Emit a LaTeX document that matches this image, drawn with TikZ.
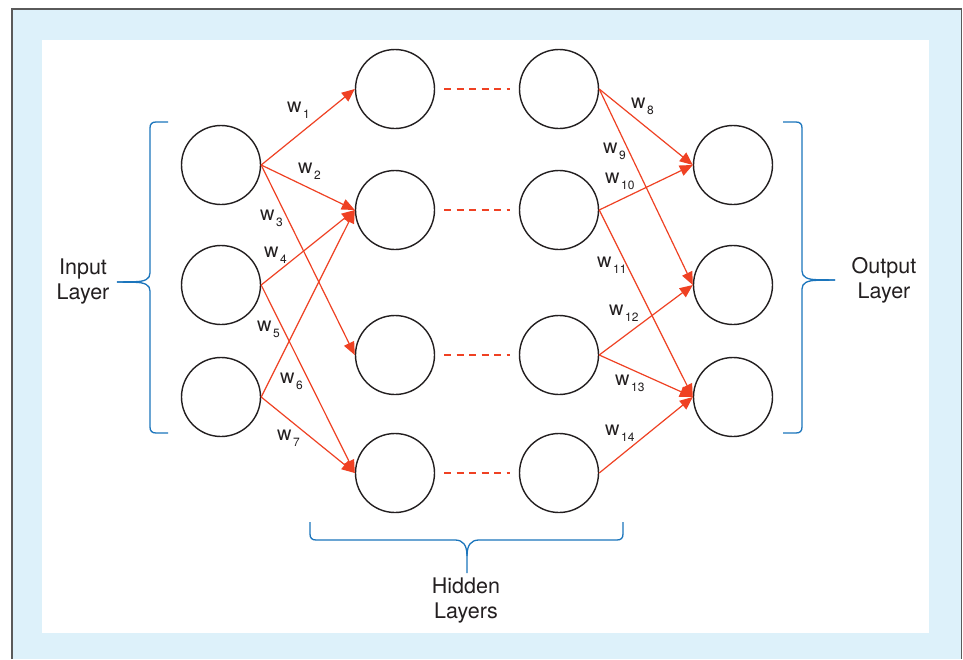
\documentclass[tikz,border=0pt]{standalone}
\usepackage{fontspec}
\setmainfont{TeX Gyre Heros}
\usetikzlibrary{arrows.meta}
\definecolor{framefill}{HTML}{DDF1FA}
\definecolor{framegray}{HTML}{5A5A5A}
\definecolor{wirered}{HTML}{EF4123}
\definecolor{bracketblue}{HTML}{1B75BC}
\definecolor{ink}{HTML}{231F20}
% weight label: w with a lowered index
\newcommand{\wlab}[1]{w\kern1.5pt\raisebox{-6pt}{\fontsize{12}{12}\selectfont #1}}

\begin{document}
\begin{tikzpicture}[x=1pt,y=-1pt,
  neuron/.style={circle, draw=ink, line width=1.4pt, minimum size=79pt, inner sep=0pt},
  synapse/.style={draw=wirered, line width=1.2pt, -{Triangle[length=13pt,width=11pt]}},
  hiddenlink/.style={draw=wirered, line width=1.6pt, dash pattern=on 7pt off 5.5pt,
                     shorten <=9pt, shorten >=9pt},
  brace/.style={draw=bracketblue, line width=1.3pt},
  wlabel/.style={anchor=base west, inner sep=0pt, font=\fontsize{20}{20}\selectfont, text=ink},
  layertext/.style={anchor=base, inner sep=0pt, font=\fontsize{21.5}{25}\selectfont, text=ink}
]
\useasboundingbox (0,0) rectangle (963,659);

% frame
\fill[framefill] (12,9) rectangle (961.5,659);
\draw[framegray, line width=1.5pt] (12,659) -- (12,9) -- (961.5,9) -- (961.5,659);
\fill[white] (42,40) rectangle (929,633);

% input layer
\node[neuron] (i1) at (221,165) {};
\node[neuron] (i2) at (221,285) {};
\node[neuron] (i3) at (221,397) {};
% first hidden layer
\node[neuron] (h1) at (395,89) {};
\node[neuron] (h2) at (395,210) {};
\node[neuron] (h3) at (395,355) {};
\node[neuron] (h4) at (395,473) {};
% last hidden layer
\node[neuron] (g1) at (559,89) {};
\node[neuron] (g2) at (559,210) {};
\node[neuron] (g3) at (559,355) {};
\node[neuron] (g4) at (559,473) {};
% output layer
\node[neuron] (o1) at (733,165) {};
\node[neuron] (o2) at (733,285) {};
\node[neuron] (o3) at (733,397) {};

% links between the hidden layers
\draw[hiddenlink] (h1) -- (g1);
\draw[hiddenlink] (h2) -- (g2);
\draw[hiddenlink] (h3) -- (g3);
\draw[hiddenlink] (h4) -- (g4);

% weighted connections, input side
\draw[synapse] (i1.east) -- (h1.west);
\draw[synapse] (i1.east) -- (h2.west);
\draw[synapse] (i1.east) -- (h3.west);
\draw[synapse] (i2.east) -- (h2.west);
\draw[synapse] (i2.east) -- (h4.west);
\draw[synapse] (i3.east) -- (h2.west);
\draw[synapse] (i3.east) -- (h4.west);
% weighted connections, output side
\draw[synapse] (g1.east) -- (o1.west);
\draw[synapse] (g1.east) -- (o2.west);
\draw[synapse] (g2.east) -- (o1.west);
\draw[synapse] (g2.east) -- (o3.west);
\draw[synapse] (g3.east) -- (o2.west);
\draw[synapse] (g3.east) -- (o3.west);
\draw[synapse] (g4.east) -- (o3.west);

% weight labels
\node[wlabel] (w1)  at (287,112) {\wlab{1}};
\node[wlabel] (w2)  at (298,173) {\wlab{2}};
\node[wlabel] (w3)  at (260,220) {\wlab{3}};
\node[wlabel] (w4)  at (264,257) {\wlab{4}};
\node[wlabel] (w5)  at (257,331) {\wlab{5}};
\node[wlabel] (w6)  at (280,383) {\wlab{6}};
\node[wlabel] (w7)  at (277,440) {\wlab{7}};
\node[wlabel] (w8)  at (631,108) {\wlab{8}};
\node[wlabel] (w9)  at (603,153) {\wlab{9}};
\node[wlabel] (w10) at (605,183) {\wlab{10}};
\node[wlabel] (w11) at (597,267) {\wlab{11}};
\node[wlabel] (w12) at (609,315) {\wlab{12}};
\node[wlabel] (w13) at (615,385) {\wlab{13}};
\node[wlabel] (w14) at (605,435) {\wlab{14}};

% input brace
\draw[brace] (168,122) -- (156,122) .. controls (152,122) and (150,124) .. (150,128)
  -- (150,273) .. controls (150,279) and (145,281.5) .. (135,281.7) -- (117,282);
\draw[brace] (117,282) -- (135,282.3) .. controls (145,282.5) and (150,285) .. (150,291)
  -- (150,427) .. controls (150,431) and (152,433) .. (156,433) -- (168,433);
% output brace
\draw[brace] (783,122) -- (796,122) .. controls (800,122) and (802,124) .. (802,128)
  -- (802,271) .. controls (802,277) and (807,279.5) .. (817,279.7) -- (835,280);
\draw[brace] (835,280) -- (817,280.3) .. controls (807,280.5) and (802,283) .. (802,289)
  -- (802,427) .. controls (802,431) and (800,433) .. (796,433) -- (783,433);
% hidden-layer brace
\draw[brace] (310,522) -- (310,534) .. controls (310,538) and (312,540) .. (316,540)
  -- (455,540) .. controls (463,540) and (467,545) .. (467,556) -- (467,573);
\draw[brace] (467,556) .. controls (467,545) and (471,540) .. (479,540)
  -- (617,540) .. controls (621,540) and (623,538) .. (623,534) -- (623,522);

% layer names
\node[layertext] (inA)  at (83,274)  {Input};
\node[layertext] (inB)  at (83,299)  {Layer};
\node[layertext] (outA) at (884,273) {Output};
\node[layertext] (outB) at (884,298) {Layer};
\node[layertext] (hidA) at (466,593) {Hidden};
\node[layertext] (hidB) at (466,618) {Layers};
\end{tikzpicture}
\end{document}
